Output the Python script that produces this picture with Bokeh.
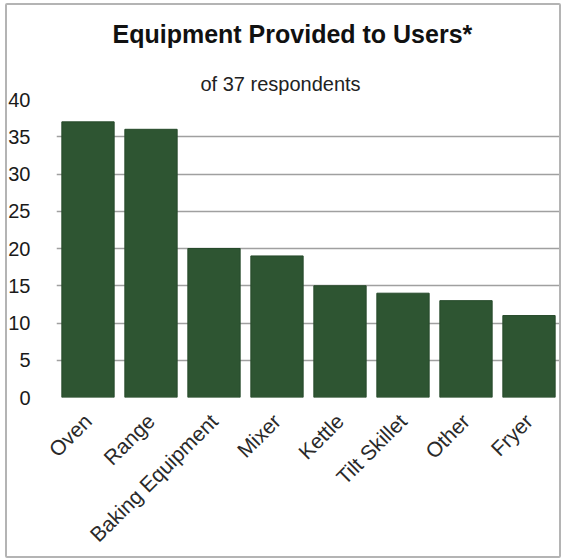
import math
from bokeh.plotting import figure
from bokeh.models import Range1d, Title, FactorRange, ColumnDataSource, InlineStyleSheet
from bokeh.embed import file_html
from bokeh.resources import INLINE

categories = ["Oven", "Range", "Baking Equipment", "Mixer", "Kettle", "Tilt Skillet", "Other", "Fryer"]
counts = [37, 36, 20, 19, 15, 14, 13, 11]
y_ticks = [0, 5, 10, 15, 20, 25, 30, 35, 40]
title_text = "Equipment Provided to Users*"
subtitle_text = "of 37 respondents"

FONT = "Liberation Sans"

p = figure(x_range=FactorRange(*categories, range_padding=0), y_range=Range1d(0, 40),
           width=563, height=560, output_backend="svg", toolbar_location=None,
           min_border_left=56, min_border_right=3, min_border_top=97, min_border_bottom=163,
           title=None)
frame_css = InlineStyleSheet(css="""
:host { position: relative; }
:host::after {
  content: "";
  position: absolute;
  left: 5px; top: 3px; right: 2px; bottom: 2px;
  border: 2px solid #b4b4b4;
  border-radius: 2px;
  pointer-events: none;
  z-index: 1000;
}
""")
p.stylesheets = [frame_css]

src = ColumnDataSource(dict(cat=categories, val=counts))
p.vbar(x="cat", top="val", width=0.83, source=src, fill_color="#2e5532",
       line_color="#264a2a", line_width=1)

p.add_layout(Title(text=subtitle_text, align="left", text_font=FONT, text_font_size="20px",
                   text_font_style="normal", text_color="#222222", offset=144, standoff=10), "above")
p.add_layout(Title(text=title_text, align="left", text_font=FONT, text_font_size="25px",
                   text_font_style="bold", text_color="#111111", offset=56, standoff=35), "above")

p.outline_line_color = None
p.background_fill_color = "white"
p.border_fill_color = "white"

p.xgrid.grid_line_color = None
p.ygrid.grid_line_color = "#a0a0a0"
p.ygrid.grid_line_width = 1.5

p.yaxis.ticker = y_ticks
p.yaxis.axis_line_color = None
p.yaxis.major_tick_line_color = None
p.yaxis.minor_tick_line_color = None
p.yaxis.major_label_text_font = FONT
p.yaxis.major_label_text_font_size = "20px"
p.yaxis.major_label_text_color = "#1a1a1a"
p.yaxis.major_label_standoff = 20

p.xaxis.axis_line_color = None
p.xaxis.major_tick_line_color = None
p.xaxis.major_label_orientation = math.pi / 4
p.xaxis.major_label_text_font = FONT
p.xaxis.major_label_text_font_size = "21px"
p.xaxis.major_label_text_color = "#2a2a2a"
p.xaxis.major_label_standoff = 14

open("out.html", "w").write(file_html(p, INLINE))
